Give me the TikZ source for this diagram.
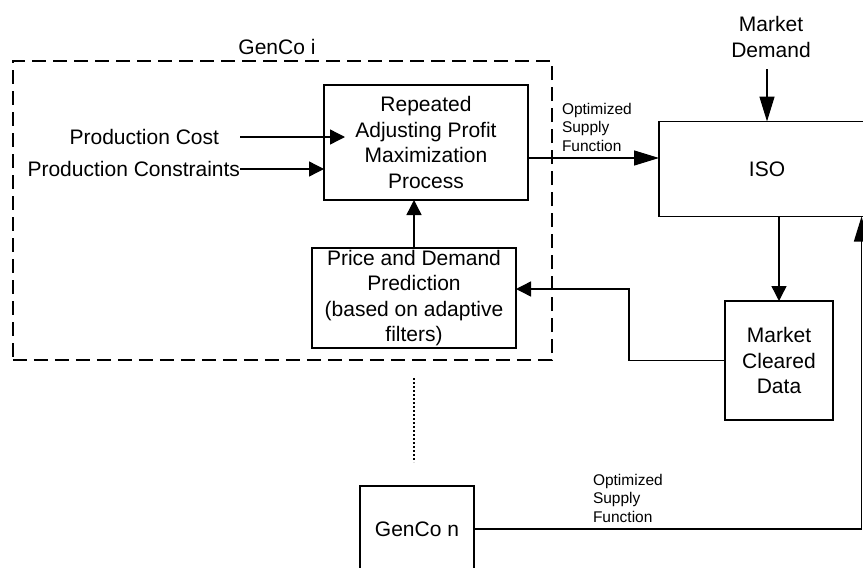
\documentclass[tikz,border=0pt]{standalone}
\usepackage{fontspec}
\setmainfont{Liberation Sans}
\usetikzlibrary{arrows.meta}
\begin{document}
\begin{tikzpicture}[x=1pt,y=-1pt,
  line width=1.4pt,
  every node/.style={inner sep=0pt, outer sep=0pt},
  boxnode/.style={draw, line width=1.4pt, align=center, font=\fontsize{21}{25.5}\selectfont},
  big/.style={font=\fontsize{21}{25.5}\selectfont, align=center},
  small/.style={font=\fontsize{15.5}{18.5}\selectfont, align=left},
  arrs/.style={-{Triangle[length=15pt,width=15pt]}},
  arrl/.style={-{Triangle[length=25pt,width=15pt]}},
  dashbox/.style={draw, line width=1.4pt, dash pattern=on 14pt off 7pt}
]
\clip (0,0) rectangle (863,568);
\fill[white] (0,0) rectangle (863,568);

% GenCo i container
\node[dashbox, minimum width=539pt, minimum height=299pt] (genco) at (282.3,210.5) {};
\node[big] (gencolab) at (277,47) {GenCo i};

% boxes
\node[boxnode, minimum width=204pt, minimum height=115pt] (rep) at (426,142.5)
  {Repeated\\Adjusting Profit\\Maximization\\Process};
\node[boxnode, minimum width=204pt, minimum height=100pt] (price) at (414,298)
  {Price and Demand\\Prediction\\(based on adaptive\\filters)};
\node[draw, line width=1.4pt, minimum width=216pt, minimum height=95pt] (iso) at (767,169) {};
\node[big] (isolab) at (iso.center) {ISO};
\node[boxnode, minimum width=108pt, minimum height=119pt] (mc) at (779,360.5)
  {Market\\Cleared\\Data};
\node[boxnode, minimum width=114pt, minimum height=86pt] (gn) at (417,529) {GenCo n};

% text labels
\node[big, anchor=east] (pc) at (219,137) {Production Cost};
\node[big, anchor=east] (pcon) at (240,169) {Production Constraints};
\node[big] (md) at (771,37) {Market\\Demand};
\node[small, anchor=west] (os1) at (562,127) {Optimized\\Supply\\Function};
\node[small, anchor=west] (os2) at (593,498) {Optimized\\Supply\\Function};

% connectors
\draw[arrs] ([xshift=21pt]pc.east) -- ([xshift=21pt]pc.east -| rep.west);
\draw[arrs] (pcon.east) -- (pcon.east -| rep.west);
\draw[arrs] (price.north) -- (price.north |- rep.south);
\draw[arrl] ([yshift=-15.5pt]rep.east) -- ([yshift=-15.5pt]rep.east -| iso.west);
\coordinate (mdb) at ([yshift=-12pt]md.south);
\draw[arrl] (mdb -| iso.north) -- (iso.north);
\draw[arrs] (iso.south -| mc.north) -- (mc.north);
\coordinate (fb) at (629,289);
\draw[arrs] (mc.west) -| (fb) -- (fb -| price.east);
\coordinate (rt) at (861.5,529);
\draw[arrl] (gn.east) -- (rt) -- (rt |- iso.south);
\coordinate (d1) at (414,378);
\coordinate (d2) at (414,462);
\draw[line width=1.2pt, dash pattern=on 2pt off 2pt] (d1) -- (d2);
\end{tikzpicture}
\end{document}
